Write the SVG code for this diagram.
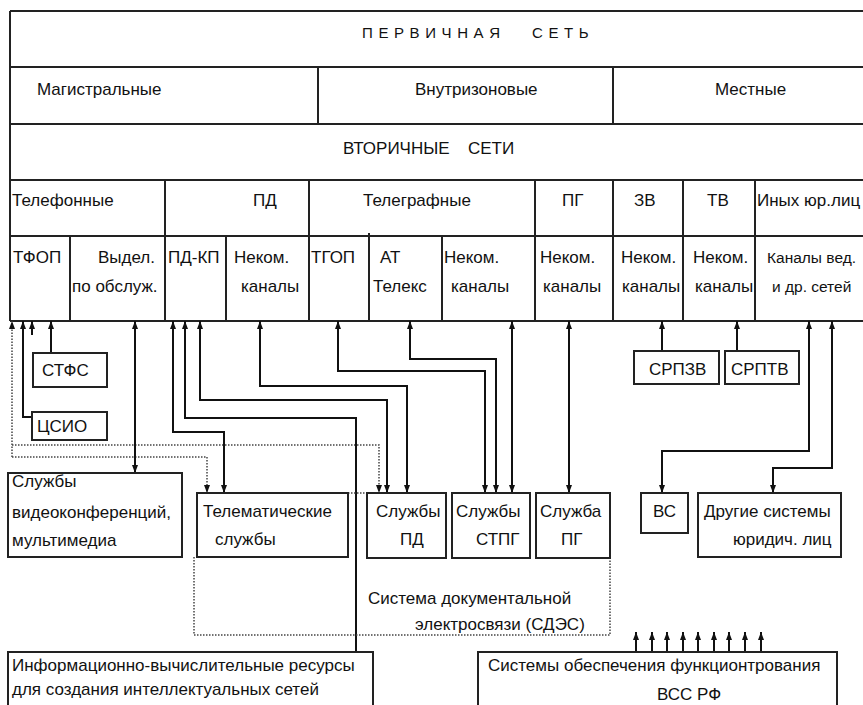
<svg xmlns="http://www.w3.org/2000/svg" width="863" height="705" viewBox="0 0 863 705">
<style>
  text { font-family: "Liberation Sans", Arial, sans-serif; font-size: 17px; fill: #111; }
  .t { font-size: 15px; letter-spacing: 5.6px; }
  .s { font-size: 15.5px; }
  .grid { stroke: #222; stroke-width: 2; fill: none; }
  .box { stroke: #222; stroke-width: 2; fill: #fff; }
  .c { stroke: #111; stroke-width: 2; fill: none; }
  .d { stroke: #444; stroke-width: 1.5; stroke-dasharray: 1.5 1.5; fill: none; }
</style>
<defs>
  <marker id="ah" viewBox="0 0 8 8" refX="8" refY="4" markerWidth="8" markerHeight="8" markerUnits="userSpaceOnUse" orient="auto-start-reverse">
    <path d="M0,1 L8,4 L0,7 z" fill="#111"/>
  </marker>
</defs>
<rect width="863" height="705" fill="#fff"/>

<g id="table">
  <path class="grid" d="M10,11 H863 M10,11 V321 M10,67 H863 M10,124 H863 M10,180 H863 M10,236 H863 M10,321 H863"/>
  <path class="grid" d="M318,67 V124 M613,67 V124"/>
  <path class="grid" d="M165,180 V321 M309,180 V321 M535,180 V321 M613,180 V321 M683,180 V321 M755,180 V321"/>
  <path class="grid" d="M70,236 V321 M226,236 V321 M369,233 V321 M442,236 V321"/>
  <text class="t" x="362" y="38">ПЕРВИЧНАЯ</text>
  <text class="t" x="532" y="38">СЕТЬ</text>
  <text x="37" y="95">Магистральные</text>
  <text x="415" y="95">Внутризоновые</text>
  <text x="715" y="95">Местные</text>
  <text x="343" y="154">ВТОРИЧНЫЕ</text>
  <text x="468" y="154">СЕТИ</text>
  <text x="12" y="206">Телефонные</text>
  <text x="253" y="206">ПД</text>
  <text x="363" y="206">Телеграфные</text>
  <text x="562" y="206">ПГ</text>
  <text x="634" y="206">ЗВ</text>
  <text x="707" y="206">ТВ</text>
  <text x="757" y="206">Иных юр.лиц</text>
  <text x="13" y="263">ТФОП</text>
  <text x="98" y="263">Выдел.</text>
  <text x="72" y="292">по обслуж.</text>
  <text x="168" y="263">ПД-КП</text>
  <text x="234" y="263">Неком.</text>
  <text x="241" y="292">каналы</text>
  <text x="311" y="263">ТГОП</text>
  <text x="380" y="263">АТ</text>
  <text x="373" y="292">Телекс</text>
  <text x="444" y="263">Неком.</text>
  <text x="451" y="292">каналы</text>
  <text x="540" y="263">Неком.</text>
  <text x="543" y="292">каналы</text>
  <text x="621" y="263">Неком.</text>
  <text x="622" y="292">каналы</text>
  <text x="693" y="263">Неком.</text>
  <text x="695" y="292">каналы</text>
  <text class="s" x="767" y="263">Каналы вед.</text>
  <text class="s" x="772" y="292">и др. сетей</text>
</g>

<g id="connectors">
  <path class="d" d="M12,457 V321" marker-end="url(#ah)"/>
  <path class="d" d="M12,445 H379 V493" marker-end="url(#ah)"/>
  <path class="d" d="M12,457 H207 V493" marker-end="url(#ah)"/>
  <path class="c" d="M32,417 H23 V321" marker-end="url(#ah)"/>
  <path class="c" d="M32,335 V321" marker-end="url(#ah)"/>
  <path class="c" d="M51,353 V321" marker-end="url(#ah)"/>
  <path class="c" d="M135,473 V321" marker-start="url(#ah)" marker-end="url(#ah)"/>
  <path class="c" d="M224,493 V432 H173 V321" marker-start="url(#ah)" marker-end="url(#ah)"/>
  <path class="c" d="M356,652 V418 H185 V321" marker-end="url(#ah)"/>
  <path class="c" d="M387,493 V400 H200 V321" marker-start="url(#ah)" marker-end="url(#ah)"/>
  <path class="c" d="M407,493 V386 H260 V321" marker-start="url(#ah)" marker-end="url(#ah)"/>
  <path class="c" d="M485,493 V371 H338 V321" marker-start="url(#ah)" marker-end="url(#ah)"/>
  <path class="c" d="M496,493 V359 H410 V321" marker-start="url(#ah)" marker-end="url(#ah)"/>
  <path class="c" d="M512,493 V321" marker-start="url(#ah)" marker-end="url(#ah)"/>
  <path class="c" d="M569,493 V321" marker-start="url(#ah)" marker-end="url(#ah)"/>
  <path class="c" d="M662,351 V321" marker-end="url(#ah)"/>
  <path class="c" d="M737,351 V321" marker-end="url(#ah)"/>
  <path class="c" d="M662,493 V451 H809 V321" marker-start="url(#ah)" marker-end="url(#ah)"/>
  <path class="c" d="M773,493 V468 H832 V321" marker-start="url(#ah)" marker-end="url(#ah)"/>
  <path class="c" d="M636,652 V632" marker-end="url(#ah)"/>
  <path class="c" d="M652,652 V632" marker-end="url(#ah)"/>
  <path class="c" d="M667,652 V632" marker-end="url(#ah)"/>
  <path class="c" d="M683,652 V632" marker-end="url(#ah)"/>
  <path class="c" d="M698,652 V632" marker-end="url(#ah)"/>
  <path class="c" d="M714,652 V632" marker-end="url(#ah)"/>
  <path class="c" d="M729,652 V632" marker-end="url(#ah)"/>
  <path class="c" d="M745,652 V632" marker-end="url(#ah)"/>
  <path class="c" d="M761,652 V632" marker-end="url(#ah)"/>
</g>

<g id="sdes">
  <path class="d" d="M348,493 H367 M194,557 V635 H610 V558"/>
  <text x="368" y="604">Система документальной</text>
  <text x="415" y="630">электросвязи (СДЭС)</text>
</g>

<g id="stfs"><rect class="box" x="33" y="353" width="74" height="34"/><text x="42" y="376">СТФС</text></g>
<g id="csio"><rect class="box" x="32" y="412" width="75" height="28"/><text x="37" y="432">ЦСИО</text></g>
<g id="srpzv"><rect class="box" x="634" y="351" width="85" height="33"/><text x="649" y="375">СРПЗВ</text></g>
<g id="srptv"><rect class="box" x="725" y="351" width="74" height="33"/><text x="731" y="375">СРПТВ</text></g>

<g id="video"><rect class="box" x="8" y="473" width="174" height="84"/>
  <text x="12" y="487">Службы</text><text x="12" y="518">видеоконференций,</text><text x="12" y="546">мультимедиа</text></g>
<g id="telematic"><rect class="box" x="197" y="493" width="151" height="64"/>
  <text x="203" y="517">Телематические</text><text x="215" y="545">службы</text></g>
<g id="pd"><rect class="box" x="367" y="493" width="79" height="65"/>
  <text x="376" y="517">Службы</text><text x="400" y="545">ПД</text></g>
<g id="stpg"><rect class="box" x="452" y="493" width="78" height="65"/>
  <text x="456" y="517">Службы</text><text x="476" y="545">СТПГ</text></g>
<g id="pg"><rect class="box" x="536" y="493" width="74" height="65"/>
  <text x="540" y="517">Служба</text><text x="561" y="545">ПГ</text></g>
<g id="vs"><rect class="box" x="641" y="493" width="47" height="40"/>
  <text x="653" y="517">ВС</text></g>
<g id="other"><rect class="box" x="698" y="493" width="143" height="64"/>
  <text x="704" y="517">Другие системы</text><text x="733" y="545">юридич. лиц</text></g>

<g id="ivr"><rect class="box" x="8" y="652" width="365" height="60"/>
  <text x="12" y="671">Информационно-вычислительные ресурсы</text><text x="12" y="695">для создания интеллектуальных сетей</text></g>
<g id="sof"><rect class="box" x="478" y="652" width="359" height="60"/>
  <text x="488" y="671">Системы обеспечения функционтрования</text><text x="657" y="700">ВСС РФ</text></g>
</svg>
